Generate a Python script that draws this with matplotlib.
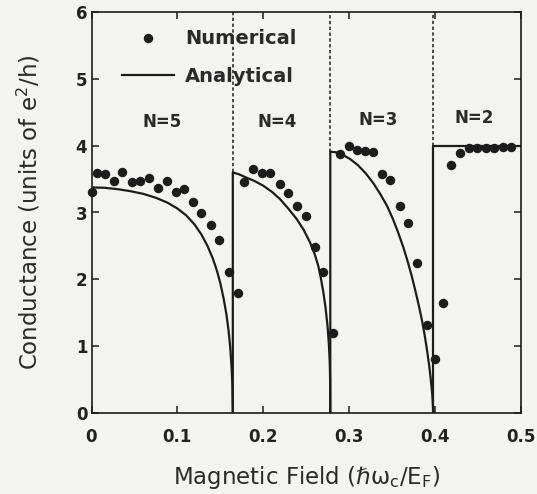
import matplotlib
matplotlib.use("Agg")
import matplotlib.pyplot as plt
from matplotlib.lines import Line2D

# ---- data ----
# Numerical (dots)
num_x_n5 = [0.000, 0.0065, 0.016, 0.026, 0.036, 0.047, 0.057, 0.067, 0.077, 0.088,
            0.098, 0.108, 0.118, 0.128, 0.139, 0.149, 0.160, 0.170]
num_y_n5 = [3.31, 3.59, 3.58, 3.47, 3.61, 3.45, 3.47, 3.51, 3.37, 3.47,
            3.31, 3.35, 3.16, 2.99, 2.82, 2.59, 2.11, 1.79]
num_x_n4 = [0.178, 0.188, 0.198, 0.208, 0.219, 0.229, 0.239, 0.250, 0.260, 0.270, 0.281]
num_y_n4 = [3.46, 3.65, 3.59, 3.59, 3.43, 3.29, 3.10, 2.95, 2.48, 2.11, 1.19]
num_x_n3 = [0.289, 0.2995, 0.309, 0.318, 0.328, 0.338, 0.348, 0.3597, 0.369, 0.379, 0.390, 0.400]
num_y_n3 = [3.88, 3.99, 3.93, 3.92, 3.90, 3.58, 3.49, 3.09, 2.84, 2.24, 1.32, 0.81]
num_x_n2 = [0.409, 0.419, 0.429, 0.439, 0.449, 0.459, 0.469, 0.479, 0.488]
num_y_n2 = [1.65, 3.71, 3.89, 3.97, 3.97, 3.97, 3.97, 3.98, 3.98]

# Analytical (solid curve), segment by segment
ana_x_n5 = [0.000, 0.015, 0.030, 0.045, 0.060, 0.075, 0.088, 0.100, 0.110, 0.120,
            0.128, 0.135, 0.141, 0.146, 0.150, 0.154, 0.157, 0.1595, 0.1615, 0.163,
            0.164, 0.1645]
ana_y_n5 = [3.375, 3.37, 3.35, 3.32, 3.28, 3.22, 3.15, 3.06, 2.96, 2.82,
            2.67, 2.50, 2.32, 2.13, 1.94, 1.70, 1.48, 1.24, 0.98, 0.70,
            0.42, 0.0]
ana_x_n4 = [0.1645, 0.1645, 0.172, 0.1806, 0.190, 0.200, 0.210, 0.2195, 0.229, 0.239,
            0.247, 0.2545, 0.260, 0.264, 0.267, 0.270, 0.2725, 0.2748, 0.2763, 0.2773,
            0.2778, 0.278]
ana_y_n4 = [0.0, 3.60, 3.57, 3.52, 3.47, 3.40, 3.31, 3.20, 3.06, 2.90,
            2.74, 2.55, 2.37, 2.20, 2.02, 1.80, 1.57, 1.30, 1.03, 0.78,
            0.50, 0.0]
ana_x_n3 = [0.278, 0.278, 0.285, 0.293, 0.301, 0.310, 0.319, 0.328, 0.336, 0.344,
            0.351, 0.357, 0.363, 0.368, 0.373, 0.377, 0.381, 0.3845, 0.3878, 0.3905,
            0.393, 0.395, 0.3967, 0.398]
ana_y_n3 = [0.0, 3.91, 3.90, 3.86, 3.80, 3.71, 3.59, 3.44, 3.28, 3.10,
            2.90, 2.70, 2.48, 2.27, 2.04, 1.83, 1.61, 1.40, 1.17, 0.95,
            0.72, 0.50, 0.28, 0.0]
ana_x_n2 = [0.398, 0.398, 0.500]
ana_y_n2 = [0.0, 4.00, 4.00]

# dashed markers of the subband transitions (x, lower y)
trans_x = [0.1645, 0.278, 0.398]
trans_ylow = [3.60, 3.91, 4.00]

region_labels = ["N=5", "N=4", "N=3", "N=2"]
region_lx = [0.0826, 0.216, 0.334, 0.445]
region_ly = [4.35, 4.35, 4.39, 4.42]

xticks = [0, 0.1, 0.2, 0.3, 0.4, 0.5]
xticklabels = ["0", "0.1", "0.2", "0.3", "0.4", "0.5"]
yticks = [0, 1, 2, 3, 4, 5, 6]

# ---- figure ----
bg = "#f3f3f1"
ink = "#1c1c1c"
plt.rcParams["font.family"] = ["DejaVu Sans"]
plt.rcParams["mathtext.fontset"] = "dejavusans"

fig = plt.figure(figsize=(5.37, 4.94), dpi=100, facecolor=bg)
ax = fig.add_axes([91.5 / 537, (494 - 413) / 494, (521 - 91.5) / 537, (413 - 12) / 494])
ax.set_facecolor(bg)

lw_curve = 1.6
for xs, ys in [(ana_x_n5, ana_y_n5), (ana_x_n4, ana_y_n4), (ana_x_n3, ana_y_n3), (ana_x_n2, ana_y_n2)]:
    ax.plot(xs, ys, color=ink, lw=lw_curve, solid_joinstyle="round", zorder=3)

for tx, ty in zip(trans_x, trans_ylow):
    ax.plot([tx, tx], [ty, 6], color=ink, lw=1.1, linestyle=(0, (2.2, 1.6)), zorder=2)

ms = 5.8
for xs, ys in [(num_x_n5, num_y_n5), (num_x_n4, num_y_n4), (num_x_n3, num_y_n3), (num_x_n2, num_y_n2)]:
    ax.plot(xs, ys, linestyle="none", marker="o", ms=ms, color=ink, mec=ink, zorder=4, clip_on=False)

for lab, lx, ly in zip(region_labels, region_lx, region_ly):
    ax.text(lx, ly, lab, ha="center", va="center", fontsize=12, fontweight="bold", color="#2a2a2a")

ax.set_xlim(0, 0.5)
ax.set_ylim(0, 6)
ax.set_xticks(xticks)
ax.set_xticklabels(xticklabels)
ax.set_yticks(yticks)

ax.tick_params(axis="both", direction="in", length=5, width=1.1, color=ink,
               top=True, right=True, labelsize=12, labelcolor="#222222")
ax.tick_params(axis="x", pad=11)
ax.tick_params(axis="y", pad=3)
for lab in ax.get_xticklabels() + ax.get_yticklabels():
    lab.set_fontweight("bold")
for s in ax.spines.values():
    s.set_linewidth(1.2)
    s.set_color(ink)

ax.set_xlabel("Magnetic Field (\u210f\u03c9$_{\\rm c}$/E$_{\\rm F}$)", fontsize=16.5, color="#2a2a2a", labelpad=13)
ax.set_ylabel(r"Conductance (units of e$^{2}$/h)", fontsize=16.5, color="#2a2a2a", labelpad=24)

handles = [
    Line2D([], [], linestyle="none", marker="o", ms=ms, color=ink),
    Line2D([], [], color=ink, lw=lw_curve),
]
leg = ax.legend(handles, ["Numerical", "Analytical"], loc="upper left",
                bbox_to_anchor=(0.03, 1.0), frameon=False,
                prop={"size": 14, "weight": "bold"}, handlelength=2.7,
                handletextpad=0.55, labelspacing=0.95, borderaxespad=0.5)
for t in leg.get_texts():
    t.set_color("#2a2a2a")

fig.savefig("out.png", dpi=100, facecolor=bg)
